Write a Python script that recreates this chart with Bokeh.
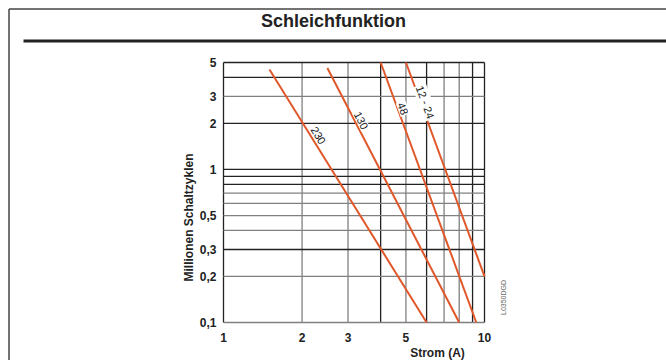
import numpy as np
from bokeh.plotting import figure
from bokeh.models import Range1d, ColumnDataSource
from bokeh.core.properties import value
from bokeh.embed import file_html
from bokeh.resources import INLINE

# ---------------- data ----------------
title_text = "Schleichfunktion"
x_label = "Strom (A)"
y_label = "Millionen Schaltzyklen"
code_text = "L0350DGD"

x_ticks = [1, 2, 3, 5, 10]
x_tick_labels = ["1", "2", "3", "5", "10"]
y_ticks = [0.1, 0.2, 0.3, 0.5, 1, 2, 3, 5]
y_tick_labels = ["0,1", "0,2", "0,3", "0,5", "1", "2", "3", "5"]

x_grid_dark = [1, 4, 6, 9, 10]
x_grid_gray = [2, 3, 5, 7, 8]
y_grid_dark = [0.3, 0.8, 0.9, 1, 2, 4, 5]
y_grid_gray = [0.1, 0.2, 0.4, 0.5, 0.6, 0.7, 3]

voltages = ["230", "130", "48", "12 - 24"]
i_start = [1.5, 2.5, 4.0, 5.0]
n_start = [4.5, 4.6, 5.0, 5.0]
i_end = [6.0, 8.0, 9.3, 10.0]
n_end = [0.1, 0.1, 0.1, 0.2]
label_i = [2.31, 3.37, 4.87, 5.93]
label_n = [1.67, 2.09, 2.50, 2.75]

X_MIN, X_MAX = 1, 10
Y_MIN, Y_MAX = 0.1, 5

# ---------------- layout (pixel placement of the chart box) ----------------
W, H = 666, 360
BX0, BX1 = 223, 484      # pixel x of X_MIN / X_MAX
BY0, BY1 = 322, 62       # pixel y of Y_MIN / Y_MAX
FONT = "Liberation Sans"
INK = "#222222"
GRAY = "#808080"

dec_x = (BX1 - BX0) / np.log10(X_MAX / X_MIN)
dec_y = (BY0 - BY1) / np.log10(Y_MAX / Y_MIN)


def sx(px):
    return float(X_MIN * 10 ** ((px - BX0) / dec_x))


def sy(py):
    return float(Y_MIN * 10 ** ((BY0 - py) / dec_y))


p = figure(width=W, height=H, output_backend="svg", toolbar_location=None,
           x_axis_type="log", y_axis_type="log",
           x_axis_location=None, y_axis_location=None,
           x_range=Range1d(sx(0), sx(W)), y_range=Range1d(sy(H), sy(0)),
           min_border=0)
p.background_fill_color = "white"
p.border_fill_color = "white"
p.outline_line_color = None
p.xgrid.visible = False
p.ygrid.visible = False

# grid lines (bounded to the chart box)
for xs, col in [(x_grid_gray, GRAY), (x_grid_dark, INK)]:
    p.segment(x0=xs, y0=[Y_MIN] * len(xs), x1=xs, y1=[Y_MAX] * len(xs),
              line_color=col, line_width=1.3)
for ys, col in [(y_grid_gray, GRAY), (y_grid_dark, INK)]:
    p.segment(x0=[X_MIN] * len(ys), y0=ys, x1=[X_MAX] * len(ys), y1=ys,
              line_color=col, line_width=1.3)

# frame decorations: outer border and heading rule
p.segment(x0=[sx(8.5), sx(8.5), sx(23)], y0=[sy(8.5), sy(8.5), sy(40.5)],
          x1=[sx(W), sx(8.5), sx(W)], y1=[sy(8.5), sy(H), sy(40.5)],
          line_color=["#444444", "#444444", INK], line_width=[1.5, 1.5, 3])

# red curves
p.segment(x0=i_start, y0=n_start, x1=i_end, y1=n_end,
          line_color="#E0582A", line_width=2)

# curve labels, rotated along each curve
slopes = [(np.log10(b) - np.log10(a)) / (np.log10(d) - np.log10(c))
          for a, b, c, d in zip(n_start, n_end, i_start, i_end)]
angles = [float(np.arctan(s * dec_y / dec_x)) for s in slopes]
src = ColumnDataSource(dict(x=label_i, y=label_n, t=voltages, a=angles))
p.text(x="x", y="y", text="t", angle="a", source=src,
       text_font=value(FONT), text_font_size="11px", text_color=INK,
       text_align="center", text_baseline="middle",
       background_fill_color="white", padding=1)

# tick labels
p.text(x=x_ticks, y=[sy(337)] * len(x_ticks), text=x_tick_labels,
       text_font=value(FONT), text_font_style="bold", text_font_size="12px",
       text_color=INK, text_align="center", text_baseline="middle")
p.text(x=[sx(216)] * len(y_ticks), y=y_ticks, text=y_tick_labels,
       text_font=value(FONT), text_font_style="bold", text_font_size="12px",
       text_color=INK, text_align="right", text_baseline="middle")

# titles
p.text(x=[sx(333)], y=[sy(20)], text=[title_text],
       text_font=value(FONT), text_font_style="bold", text_font_size="18px",
       text_color=INK, text_align="center", text_baseline="middle")
p.text(x=[sx(437)], y=[sy(352)], text=[x_label],
       text_font=value(FONT), text_font_style="bold", text_font_size="12px",
       text_color=INK, text_align="center", text_baseline="middle")
p.text(x=[sx(188)], y=[sy(217)], text=[y_label], angle=np.pi / 2,
       text_font=value(FONT), text_font_style="bold", text_font_size="12px",
       text_color=INK, text_align="center", text_baseline="middle")
p.text(x=[sx(503)], y=[sy(297)], text=[code_text], angle=np.pi / 2,
       text_font=value(FONT), text_font_size="7px",
       text_color="#666666", text_align="center", text_baseline="middle")

open("out.html", "w").write(file_html(p, INLINE))
